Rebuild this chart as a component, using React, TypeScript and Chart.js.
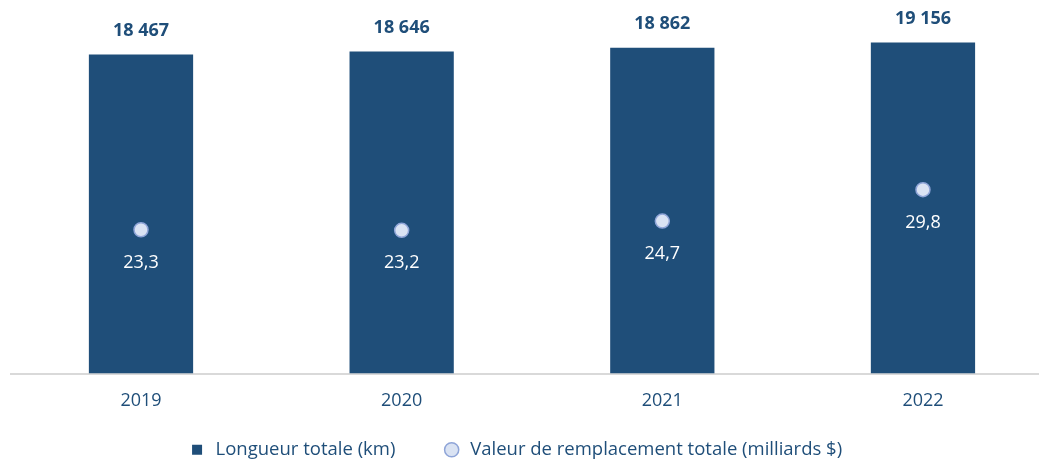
import React, { useEffect, useRef } from 'react';
import { Chart, registerables } from 'chart.js';

Chart.register(...registerables);

const years = ['2019', '2020', '2021', '2022'];
const lengthKm = [18467, 18646, 18862, 19156];
const replacementValue = [23.3, 23.2, 24.7, 29.8];
const lengthAxisMax = 20000;
const valueAxisMax = 56;

const NAVY = '#1f4e79';
const FONT = "'Open Sans', sans-serif";

const fmtKm = (n: number) => `${Math.floor(n / 1000)} ${String(n % 1000).padStart(3, '0')}`;
const fmtVal = (v: number) => v.toFixed(1).replace('.', ',');

const labelPlugin = {
  id: 'valueLabels',
  afterLayout(chart: any) {
    // let the x tick labels extend below the thin x-axis box (no clipping)
    const x = chart.scales.x;
    x.bottom = x.top + 60;
  },
  afterDatasetsDraw(chart: any) {
    const ctx = chart.ctx;
    ctx.save();
    ctx.textAlign = 'center';
    ctx.textBaseline = 'middle';
    ctx.fillStyle = NAVY;
    ctx.font = `bold 18px ${FONT}`;
    chart.getDatasetMeta(0).data.forEach((el: any, i: number) => {
      ctx.fillText(fmtKm(lengthKm[i]), el.x, el.y - 24);
    });
    ctx.fillStyle = '#ffffff';
    ctx.font = `18px ${FONT}`;
    chart.getDatasetMeta(1).data.forEach((el: any, i: number) => {
      ctx.fillText(fmtVal(replacementValue[i]), el.x, el.y + 33);
    });
    ctx.restore();
  },
};

export default function App() {
  const ref = useRef<HTMLCanvasElement>(null);
  useEffect(() => {
    const chart = new Chart(ref.current!, {
      type: 'bar',
      data: {
        labels: years,
        datasets: [
          {
            type: 'bar',
            label: 'Longueur totale (km)',
            data: lengthKm,
            backgroundColor: NAVY,
            yAxisID: 'y',
            order: 0,
            pointStyle: 'rect',
            barPercentage: 0.4,
            categoryPercentage: 1,
          } as any,
          {
            type: 'line',
            label: 'Valeur de remplacement totale (milliards $)',
            data: replacementValue,
            yAxisID: 'y1',
            showLine: false,
            order: -1,
            pointStyle: 'circle',
            pointRadius: 7,
            pointBackgroundColor: '#dae3f3',
            pointBorderColor: '#8fa5d8',
            pointBorderWidth: 1.5,
            backgroundColor: '#dae3f3',
            borderColor: '#8fa5d8',
            borderWidth: 1.5,
          } as any,
        ],
      },
      options: {
        responsive: false,
        animation: false,
        layout: { padding: { left: 6.67, right: 16.7, top: 28, bottom: 0 } },
        scales: {
          x: {
            grid: { display: false },
            border: { color: '#d9d9d9', width: 2 },
            ticks: { color: NAVY, font: { family: FONT, size: 18 }, padding: 9 },
            afterFit: (s: any) => { s.height = 20; },
          },
          y: {
            position: 'left',
            min: 0,
            max: lengthAxisMax,
            grid: { display: false },
            border: { display: false },
            ticks: { display: false },
            afterFit: (s: any) => { s.width = 34; },
          },
          y1: { position: 'right', min: 0, max: valueAxisMax, display: false },
        },
        plugins: {
          legend: {
            position: 'bottom',
            labels: {
              usePointStyle: true,
              boxHeight: 10,
              padding: 47,
              color: NAVY,
              font: { family: FONT, size: 18.5 },
              sort: (a: any, b: any) => a.datasetIndex - b.datasetIndex,
            },
          },
          tooltip: { enabled: false },
        },
      } as any,
      plugins: [labelPlugin],
    });
    return () => chart.destroy();
  }, []);
  return (
    <div style={{ position: 'fixed', left: 0, top: 0, width: 1039, height: 461, overflow: 'hidden', background: '#fff' }}>
      <canvas ref={ref} width={1100} height={469} style={{ position: 'absolute', left: -30, top: 0, width: 1100, height: 469 }} />
    </div>
  );
}
